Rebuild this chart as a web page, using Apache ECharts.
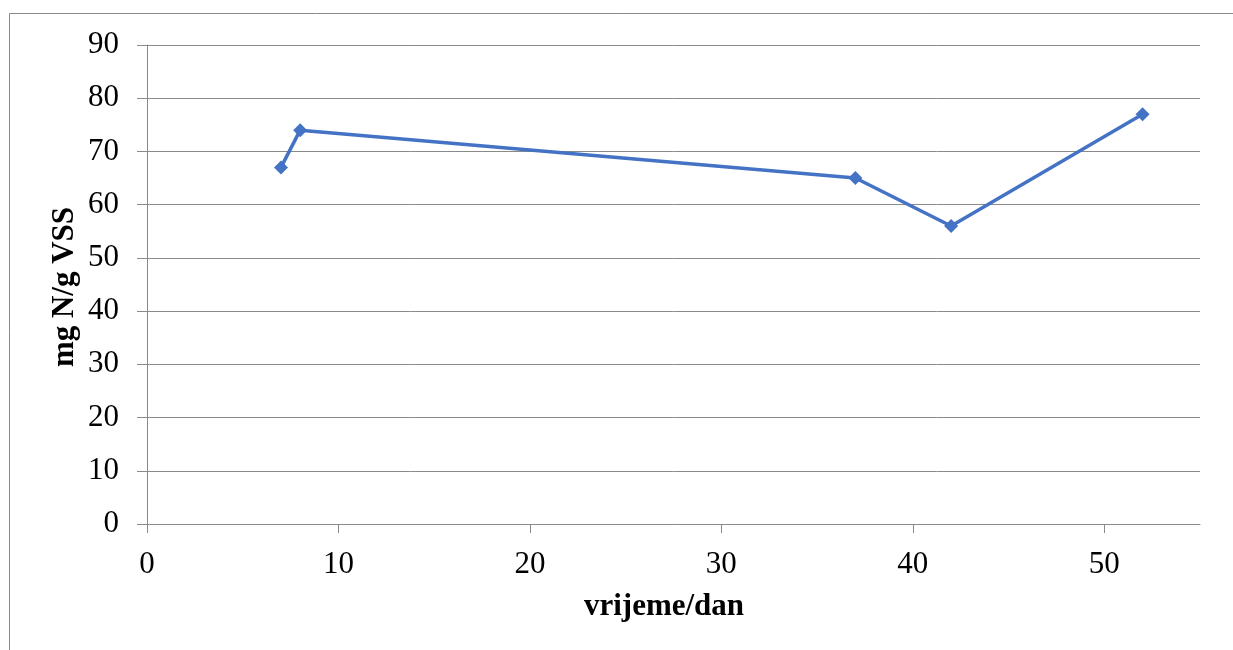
<!DOCTYPE html>
<html>
<head>
<meta charset="utf-8">
<script src="https://cdn.jsdelivr.net/npm/echarts@6/dist/echarts.min.js"></script>
<style>html,body{margin:0;padding:0;background:#fff;}#c{width:1233px;height:650px;}</style>
</head>
<body>
<div id="c"></div>
<script>
var days = [7, 8, 37, 42, 52];
var values = [67, 74, 65, 56, 77];
var xTicks = [0, 10, 20, 30, 40, 50];
var yTicks = [0, 10, 20, 30, 40, 50, 60, 70, 80, 90];
var xTitle = 'vrijeme/dan';
var yTitle = 'mg N/g VSS';

var chart = echarts.init(document.getElementById('c'), null, {renderer: 'canvas'});
var serif = '"Liberation Serif", "Times New Roman", serif';
var gridColor = '#8a8a8a';
chart.setOption({
  animation: false,
  grid: {left: 147, top: 45, right: 33, bottom: 126, containLabel: false},
  graphic: [
    {type: 'rect', shape: {x: 9.5, y: 13.5, width: 1400, height: 800}, style: {fill: 'none', stroke: '#8a8a8a', lineWidth: 1}, silent: true, z: -1},
    {type: 'text', x: 664, y: 607, style: {text: xTitle, font: 'bold 31px ' + serif, fill: '#000', textAlign: 'center', textVerticalAlign: 'middle'}},
    {type: 'text', x: 65, y: 287, rotation: Math.PI / 2, style: {text: yTitle, font: 'bold 31px ' + serif, fill: '#000', textAlign: 'center', textVerticalAlign: 'middle'}}
  ],
  xAxis: {
    type: 'value', min: 0, max: 55, interval: 10,
    axisLine: {show: true, lineStyle: {color: gridColor, width: 1}},
    axisTick: {show: true, length: 9, customValues: xTicks, lineStyle: {color: gridColor}},
    axisLabel: {customValues: xTicks, margin: 25, color: '#000', fontSize: 31, fontFamily: serif},
    splitLine: {show: false}
  },
  yAxis: {
    type: 'value', min: 0, max: 90, interval: 10,
    axisLine: {show: true, lineStyle: {color: gridColor, width: 1}},
    axisTick: {show: true, length: 10, customValues: yTicks, lineStyle: {color: gridColor}},
    axisLabel: {customValues: yTicks, margin: 28, color: '#000', fontSize: 31, fontFamily: serif},
    splitLine: {show: true, lineStyle: {color: gridColor, width: 1}}
  },
  series: [{
    type: 'line',
    data: days.map(function (d, i) { return [d, values[i]]; }),
    symbol: 'path://M0,-1L1,0L0,1L-1,0Z',
    symbolSize: 14,
    showAllSymbol: true,
    lineStyle: {color: '#4472C4', width: 3.5},
    itemStyle: {color: '#4472C4'}
  }]
});
</script>
</body>
</html>
